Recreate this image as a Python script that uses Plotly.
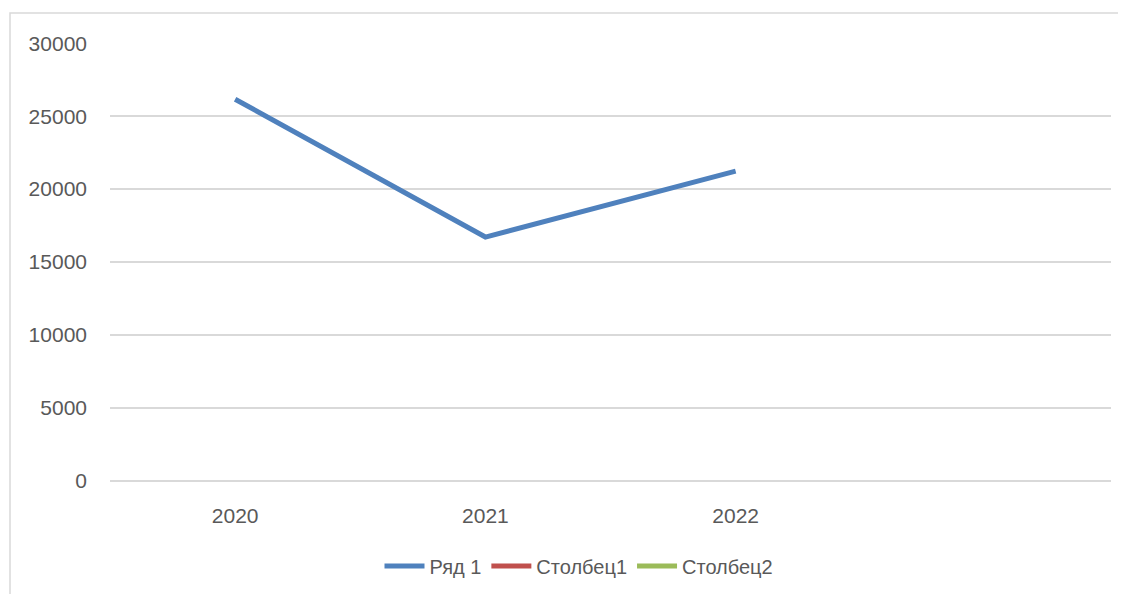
import plotly.graph_objects as go

years = [2020, 2021, 2022]
tick_labels = ["2020", "2021", "2022"]
series_names = ["Ряд 1", "Столбец1", "Столбец2"]
row1 = [26160, 16710, 21230]
col1 = [None, None, None]
col2 = [None, None, None]
colors = ["#4F81BD", "#C0504D", "#9BBB59"]

fig = go.Figure()
for name, vals, c in zip(series_names, [row1, col1, col2], colors):
    fig.add_trace(go.Scatter(x=years, y=vals, mode="lines", name=name,
                             line=dict(color=c, width=5), connectgaps=False))

OFF = 8  # page body margin
W, H = 1126 - OFF, 594 - OFF
L, R, T, B = 110 - OFF, 15, 43 - OFF, 113
pw = W - L - R
ph = H - T - B

fig.update_layout(
    width=W, height=H,
    margin=dict(l=L, r=R, t=T, b=B, autoexpand=False),
    plot_bgcolor="white", paper_bgcolor="white",
    font=dict(family="Liberation Sans, Arial, sans-serif", size=21, color="#595959"),
    xaxis=dict(range=[2019.5, 2023.5], tickvals=years, ticktext=tick_labels,
               showgrid=False, zeroline=False, showline=False, ticks="",
               ticklabelstandoff=20, fixedrange=True, automargin=False),
    yaxis=dict(range=[-15, 30015], tickvals=[0, 5000, 10000, 15000, 20000, 25000, 30000],
               tickformat="d", showgrid=True, gridcolor="#d9d9d9",
               gridwidth=1.5, zeroline=True, zerolinecolor="#d9d9d9", zerolinewidth=1.5,
               showline=False, ticks="", ticklabelstandoff=22, fixedrange=True,
               automargin=False),
    legend=dict(orientation="h", xanchor="center", yanchor="middle",
                x=(579 - 110) / pw, y=(481 - 566) / ph, font=dict(size=20),
                itemwidth=40, tracegroupgap=0),
    showlegend=True,
)

x_left = (10 - 110) / pw
y_top = (481 - 13) / ph
fig.add_shape(type="path", xref="paper", yref="paper",
              path=f"M {x_left},-0.6 L {x_left},{y_top} L 1.2,{y_top}",
              line=dict(color="#d9d9d9", width=1.5), layer="below")

fig.write_html("out.html")
